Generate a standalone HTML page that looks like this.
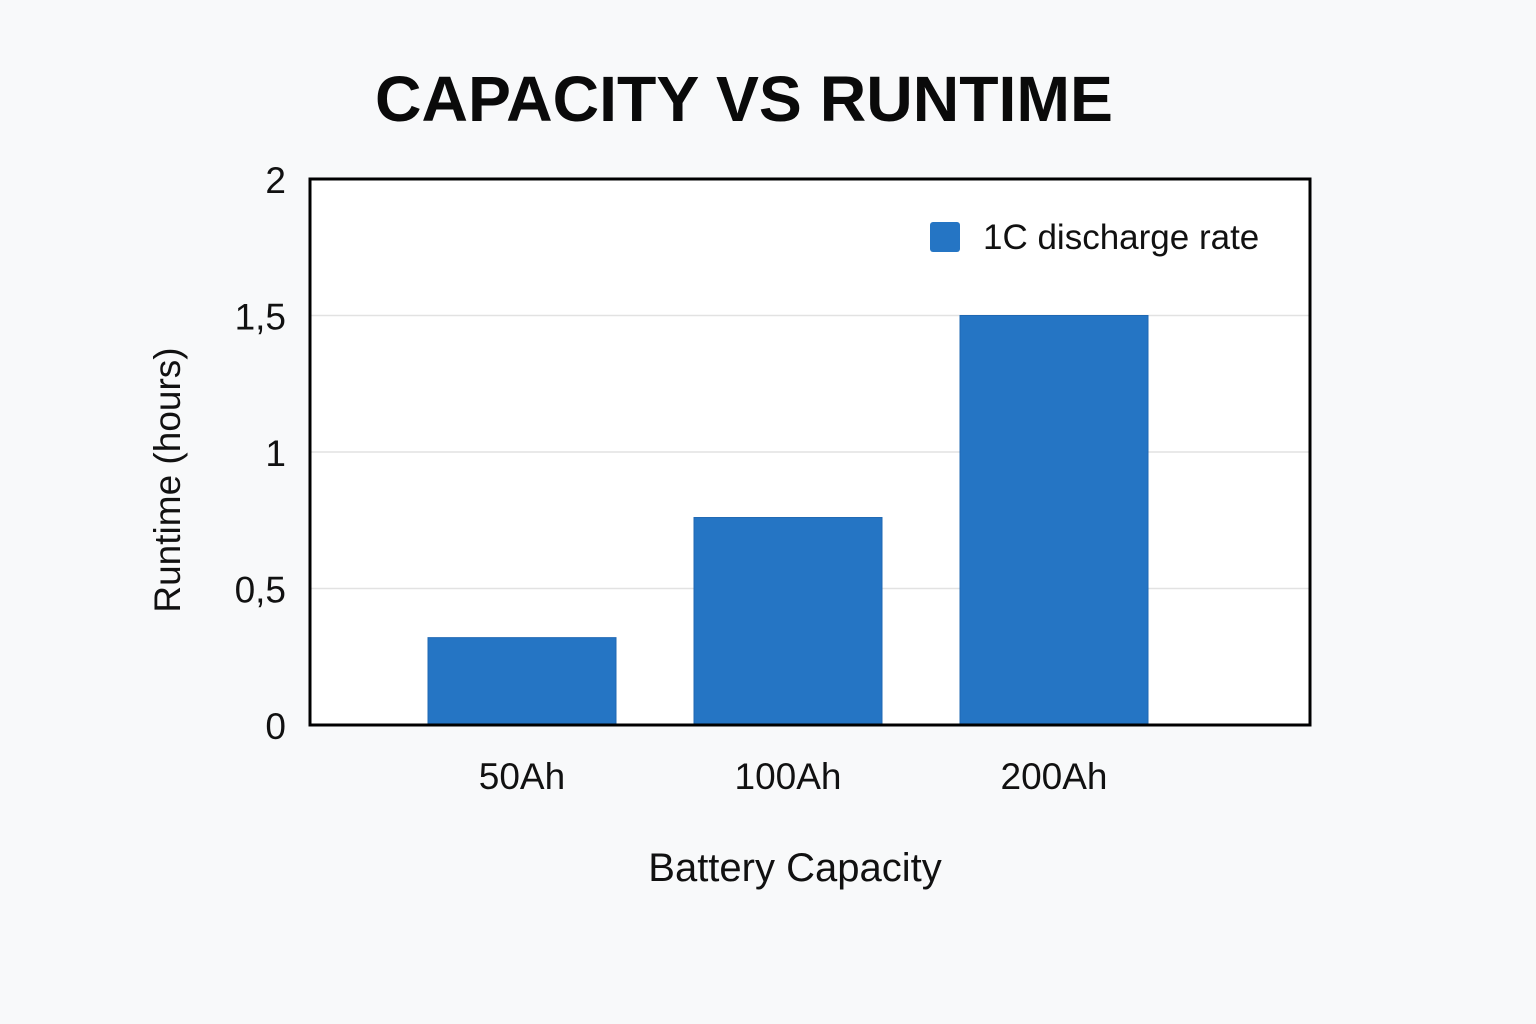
<!DOCTYPE html>
<html><head><meta charset="utf-8"><style>
html,body{margin:0;padding:0;background:#f8f9fa;}
svg{display:block;font-family:"Liberation Sans",sans-serif;}
</style></head><body>
<svg id="chart" width="1536" height="1024" viewBox="0 0 1536 1024">
<rect x="0" y="0" width="1536" height="1024" fill="#f8f9fa"/>
<text x="744" y="121" text-anchor="middle" font-size="64" font-weight="bold" fill="#0a0a0a" textLength="738" lengthAdjust="spacingAndGlyphs">CAPACITY VS RUNTIME</text>
<rect x="310" y="179" width="1000" height="546" fill="#ffffff"/>
<g id="grid"></g>
<g id="bars"></g>
<rect x="310" y="179" width="1000" height="546" fill="none" stroke="#000" stroke-width="3"/>
<g id="yticks"></g>
<g id="xticks"></g>
<text x="795" y="881" text-anchor="middle" font-size="40" fill="#111">Battery Capacity</text>
<text transform="translate(180,480) rotate(-90)" text-anchor="middle" font-size="37" fill="#111">Runtime (hours)</text>
<g>
<rect x="930" y="222" width="30" height="30" rx="3" fill="#2575c4"/>
<text x="983" y="249" font-size="35" fill="#111">1C discharge rate</text>
</g>
</svg>
<script>
const categories = ["50Ah", "100Ah", "200Ah"];
const runtimeValues = [0.32, 0.76, 1.5];
const yTickValues = [0, 0.5, 1, 1.5, 2];
const yTickLabels = ["0", "0,5", "1", "1,5", "2"];

const NS = "http://www.w3.org/2000/svg";
const y = v => 725 - v * 273;
const x = i => 522 + 266 * i;
const barW = 188;

const grid = document.getElementById('grid');
const yt = document.getElementById('yticks');
yTickValues.forEach((v, i) => {
  if (v > 0 && v < 2) {
    const l = document.createElementNS(NS, 'line');
    l.setAttribute('x1', 310); l.setAttribute('x2', 1310);
    l.setAttribute('y1', y(v)); l.setAttribute('y2', y(v));
    l.setAttribute('stroke', '#e2e2e2'); l.setAttribute('stroke-width', 1.5);
    
    
    grid.appendChild(l);
  }
  const t = document.createElementNS(NS, 'text');
  t.setAttribute('x', 286); t.setAttribute('y', y(v) + 14);
  t.setAttribute('text-anchor', 'end'); t.setAttribute('font-size', 37); t.setAttribute('fill', '#111');
  t.textContent = yTickLabels[i];
  
  
  yt.appendChild(t);
});

const bars = document.getElementById('bars');
const xt = document.getElementById('xticks');
categories.forEach((c, i) => {
  const r = document.createElementNS(NS, 'rect');
  r.setAttribute('x', x(i) - barW / 2); r.setAttribute('width', barW);
  r.setAttribute('y', y(runtimeValues[i])); r.setAttribute('height', y(0) - y(runtimeValues[i]));
  r.setAttribute('fill', '#2575c4'); r.setAttribute('stroke', '#1f68b3'); r.setAttribute('stroke-width', 1);
  
  
  bars.appendChild(r);
  const t = document.createElementNS(NS, 'text');
  t.setAttribute('x', x(i)); t.setAttribute('y', 789);
  t.setAttribute('text-anchor', 'middle'); t.setAttribute('font-size', 37); t.setAttribute('fill', '#111');
  t.textContent = c;
  
  
  xt.appendChild(t);
});
</script>
</body></html>
